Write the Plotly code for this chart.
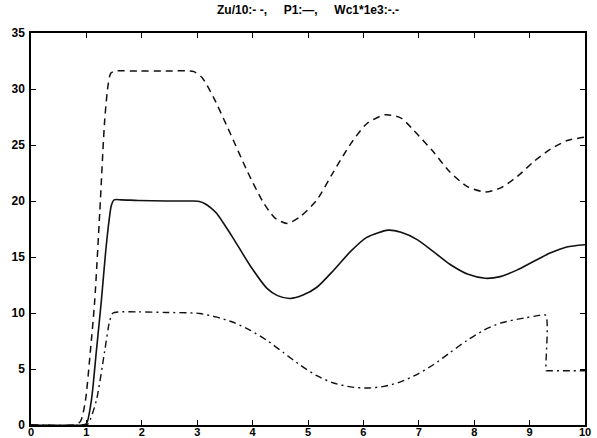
import plotly.graph_objects as go

# Zu/10 (dashed)
zu_x = [0, 0.77, 0.89, 0.98, 1.07, 1.15, 1.24, 1.33, 1.39, 1.44, 1.52, 1.93, 2.43, 2.94, 3.09, 3.29, 3.6, 3.9, 4.19, 4.4, 4.62, 4.86, 5.16, 5.46, 5.77, 6.06, 6.39, 6.68, 6.91, 7.27, 7.54, 7.87, 8.2, 8.49, 8.78, 9.07, 9.37, 9.68, 10.0]
zu_y = [0, 0, 0.3, 2.1, 6.5, 11.1, 18.9, 27.2, 30.3, 31.4, 31.6, 31.6, 31.6, 31.55, 31.0, 29.3, 26.0, 22.7, 19.9, 18.5, 18.0, 18.6, 20.1, 22.6, 25.1, 26.9, 27.7, 27.4, 26.3, 24.35, 22.7, 21.3, 20.8, 21.2, 22.2, 23.5, 24.6, 25.4, 25.7]

# P1 (solid)
p1_x = [0, 0.92, 1.0, 1.09, 1.18, 1.27, 1.35, 1.41, 1.45, 1.5, 1.63, 1.93, 2.43, 2.94, 3.04, 3.14, 3.24, 3.35, 3.49, 3.66, 3.96, 4.26, 4.45, 4.68, 4.91, 5.16, 5.46, 5.77, 6.06, 6.45, 6.68, 6.97, 7.27, 7.56, 7.89, 8.2, 8.47, 8.78, 9.07, 9.37, 9.67, 10.0]
p1_y = [0, 0, 0.1, 2.2, 6.6, 11.1, 15.6, 18.3, 19.6, 20.1, 20.1, 20.05, 20.0, 20.0, 19.95, 19.75, 19.4, 18.9, 17.9, 16.6, 14.2, 12.2, 11.55, 11.3, 11.6, 12.3, 13.8, 15.5, 16.75, 17.4, 17.2, 16.55, 15.45, 14.35, 13.45, 13.1, 13.25, 13.85, 14.6, 15.35, 15.9, 16.1]

# Wc1*1e3 (dash-dot)
wc_x = [0, 0.97, 1.03, 1.18, 1.33, 1.42, 1.48, 1.58, 1.93, 2.43, 2.94, 3.05, 3.34, 3.66, 3.96, 4.26, 4.56, 4.86, 5.16, 5.46, 5.77, 6.07, 6.37, 6.67, 6.98, 7.27, 7.56, 7.87, 8.17, 8.47, 8.9, 9.1, 9.29, 9.3, 9.32, 9.6, 10.0]
wc_y = [0, 0, 0.1, 2.2, 6.6, 9.3, 10.0, 10.1, 10.1, 10.05, 10.0, 9.95, 9.65, 9.15, 8.45, 7.55, 6.45, 5.35, 4.4, 3.75, 3.4, 3.3, 3.45, 3.85, 4.55, 5.4, 6.45, 7.55, 8.45, 9.1, 9.55, 9.72, 9.8, 4.85, 4.85, 4.85, 4.85]

title_text = "Zu/10:- -,     P1:\u2014,     Wc1*1e3:-.-"

fig = go.Figure()
fig.add_trace(go.Scatter(x=zu_x, y=zu_y, mode="lines",
                         line=dict(color="#111", width=1.5, dash="7px,5px", shape="spline", smoothing=0.7)))
fig.add_trace(go.Scatter(x=p1_x, y=p1_y, mode="lines",
                         line=dict(color="#111", width=1.6, shape="spline", smoothing=0.7)))
fig.add_trace(go.Scatter(x=wc_x, y=wc_y, mode="lines",
                         line=dict(color="#111", width=1.4, dash="7px,4px,2px,4px", shape="spline", smoothing=0.7)))

axis_common = dict(showline=True, linecolor="black", linewidth=1.5, mirror="ticks",
                   ticks="inside", ticklen=5, tickcolor="black", tickwidth=1,
                   showgrid=False, zeroline=False, automargin=False)

fig.update_layout(
    width=597, height=438,
    margin=dict(l=31, r=12, t=33, b=13, autoexpand=False),
    paper_bgcolor="white", plot_bgcolor="white",
    showlegend=False,
    title=dict(text=title_text, x=0.5, xref="paper", xanchor="center", y=0.988, yanchor="top",
               automargin=False,
               font=dict(family="Liberation Sans, Arial", size=12, color="black", weight="bold")),
    xaxis=dict(range=[0, 10], dtick=1, ticklabelstandoff=-4,
               tickfont=dict(family="Liberation Sans, Arial", size=11, color="black", weight="bold"),
               **axis_common),
    yaxis=dict(range=[0, 35], dtick=5, ticklabelstandoff=2,
               tickfont=dict(family="Liberation Sans, Arial", size=12, color="black", weight="bold"),
               **axis_common),
)

fig.write_html("out.html", config={"displayModeBar": False},
               post_script="document.body.style.margin='0';document.body.style.overflow='hidden';")
